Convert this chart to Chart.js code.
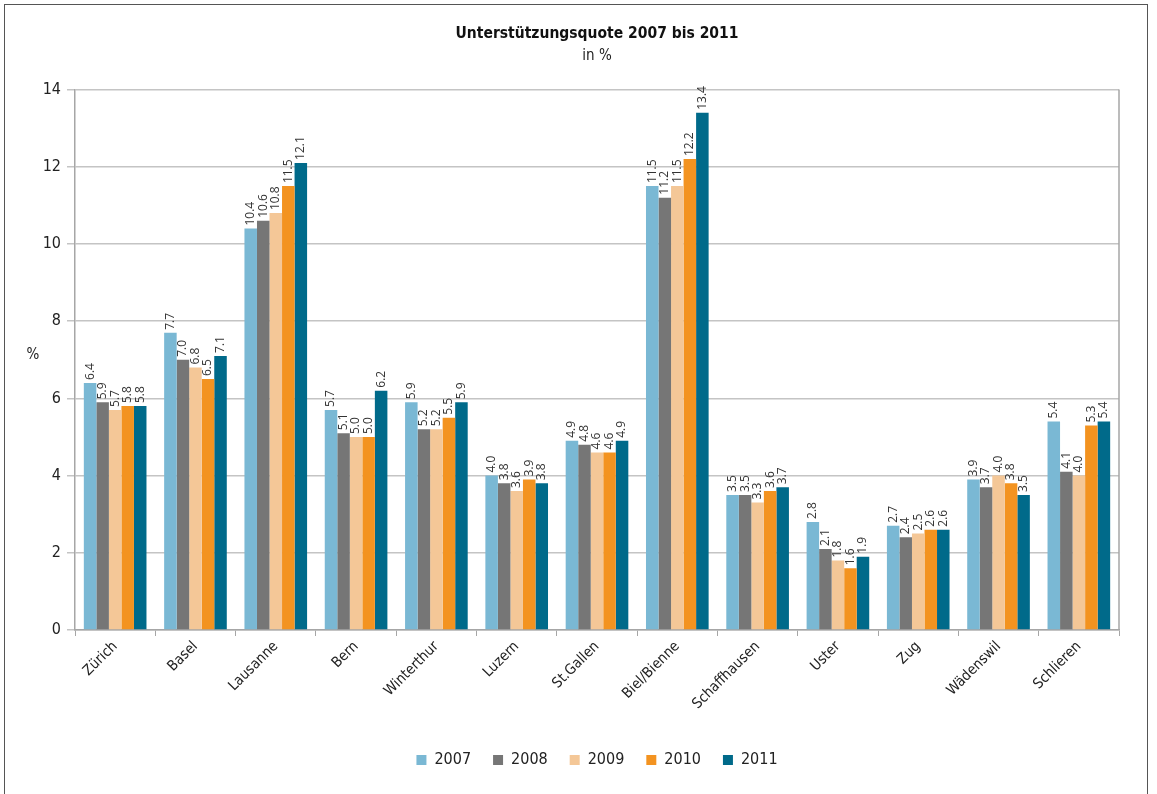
<!DOCTYPE html>
<html>
<head>
<meta charset="utf-8">
<script src="https://cdn.jsdelivr.net/npm/chart.js@4"></script>
<style>
  html, body { margin: 0; padding: 0; background: #fff; }
  #frame { position: absolute; left: 4px; top: 4px; width: 1144px; height: 800px; border: 1px solid #555; box-sizing: border-box; }
  #wrap { position: absolute; left: 0; top: 0; width: 1157px; height: 794px; }
</style>
</head>
<body>
<div id="frame"></div>
<div id="wrap"><canvas id="myChart" width="1157" height="794"></canvas></div>
<script>
const cities = ['Zürich', 'Basel', 'Lausanne', 'Bern', 'Winterthur', 'Luzern', 'St.Gallen',
  'Biel/Bienne', 'Schaffhausen', 'Uster', 'Zug', 'Wädenswil', 'Schlieren'];
const years = ['2007', '2008', '2009', '2010', '2011'];

const q2007 = [6.4, 7.7, 10.4, 5.7, 5.9, 4.0, 4.9, 11.5, 3.5, 2.8, 2.7, 3.9, 5.4];
const q2008 = [5.9, 7.0, 10.6, 5.1, 5.2, 3.8, 4.8, 11.2, 3.5, 2.1, 2.4, 3.7, 4.1];
const q2009 = [5.7, 6.8, 10.8, 5.0, 5.2, 3.6, 4.6, 11.5, 3.3, 1.8, 2.5, 4.0, 4.0];
const q2010 = [5.8, 6.5, 11.5, 5.0, 5.5, 3.9, 4.6, 12.2, 3.6, 1.6, 2.6, 3.8, 5.3];
const q2011 = [5.8, 7.1, 12.1, 6.2, 5.9, 3.8, 4.9, 13.4, 3.7, 1.9, 2.6, 3.5, 5.4];

const colors = ['#7ab8d4', '#767676', '#f4c797', '#f39320', '#006a8a'];
const series = [q2007, q2008, q2009, q2010, q2011];

const cond = "'DejaVu Sans Condensed', 'Roboto', sans-serif";

// value labels written upright above each bar
const valueLabels = {
  id: 'valueLabels',
  afterDatasetsDraw(chart) {
    const ctx = chart.ctx;
    ctx.save();
    ctx.font = "12px 'Open Sans', sans-serif";
    ctx.fillStyle = '#333';
    ctx.textAlign = 'left';
    ctx.textBaseline = 'middle';
    chart.data.datasets.forEach((ds, i) => {
      chart.getDatasetMeta(i).data.forEach((bar, j) => {
        ctx.save();
        ctx.translate(bar.x, bar.y - 3);
        ctx.rotate(-Math.PI / 2);
        ctx.fillText(ds.data[j].toFixed(1), 0, 0);
        ctx.restore();
      });
    });
    ctx.restore();
  }
};

// center title, subtitle and legend on the plot area; right border and "%" title
const extras = {
  id: 'extras',
  afterLayout(chart) {
    const a = chart.chartArea;
    [chart.titleBlock, chart.legend].forEach(b => {
      if (b) { b.left = a.left; b.right = a.right; b.width = a.right - a.left; }
    });
    const sub = chart.boxes.find(b => b.options && b.options.text === 'in %');
    if (sub) { sub.left = a.left; sub.right = a.right; sub.width = a.right - a.left; }
  },
  afterDraw(chart) {
    const ctx = chart.ctx;
    const a = chart.chartArea;
    ctx.save();
    ctx.strokeStyle = '#a6a6a6';
    ctx.lineWidth = 1.5;
    ctx.beginPath();
    ctx.moveTo(a.right, a.top);
    ctx.lineTo(a.right, a.bottom);
    ctx.stroke();
    ctx.fillStyle = '#222';
    ctx.font = "15px " + cond;
    ctx.textAlign = 'center';
    ctx.textBaseline = 'middle';
    ctx.fillText('%', 33, 355);
    ctx.restore();
  }
};

const data = {
  labels: cities,
  datasets: years.map((y, i) => ({
    label: y,
    data: series[i],
    backgroundColor: colors[i],
    borderWidth: 0,
    categoryPercentage: 0.78,
    barPercentage: 1.0
  }))
};

const config = {
  type: 'bar',
  data: data,
  plugins: [valueLabels, extras],
  options: {
    responsive: false,
    animation: false,
    layout: { padding: { left: 8, right: 38, top: 25, bottom: 16 } },
    plugins: {
      title: {
        display: true,
        text: 'Unterstützungsquote 2007 bis 2011',
        color: '#111',
        font: { family: cond, size: 15.5, weight: 'bold' },
        padding: { top: 0, bottom: 4 }
      },
      subtitle: {
        display: true,
        text: 'in %',
        color: '#222',
        font: { family: cond, size: 15 },
        padding: { top: 0, bottom: 24 }
      },
      legend: {
        position: 'bottom',
        labels: {
          boxWidth: 10,
          boxHeight: 10,
          padding: 22,
          color: '#222',
          font: { family: cond, size: 16 }
        }
      },
      tooltip: { enabled: false }
    },
    scales: {
      x: {
        grid: { drawOnChartArea: false, tickLength: 6, color: '#a6a6a6', offset: true },
        border: { color: '#a6a6a6', width: 1.5 },
        ticks: {
          minRotation: 45, maxRotation: 45,
          color: '#222',
          font: { family: cond, size: 14.5 },
          padding: 2
        },
        afterFit(s) { s.height = 100; }
      },
      y: {
        min: 0, max: 14,
        ticks: { stepSize: 2, color: '#222', font: { family: cond, size: 16 }, padding: 6 },
        grid: { color: '#c4c4c4', lineWidth: 1.5, tickLength: 8 },
        border: { color: '#a6a6a6', width: 1.5 },
        afterFit(s) { s.width = 67; }
      }
    }
  }
};

const chart = new Chart(document.getElementById('myChart'), config);
</script>
</body>
</html>
